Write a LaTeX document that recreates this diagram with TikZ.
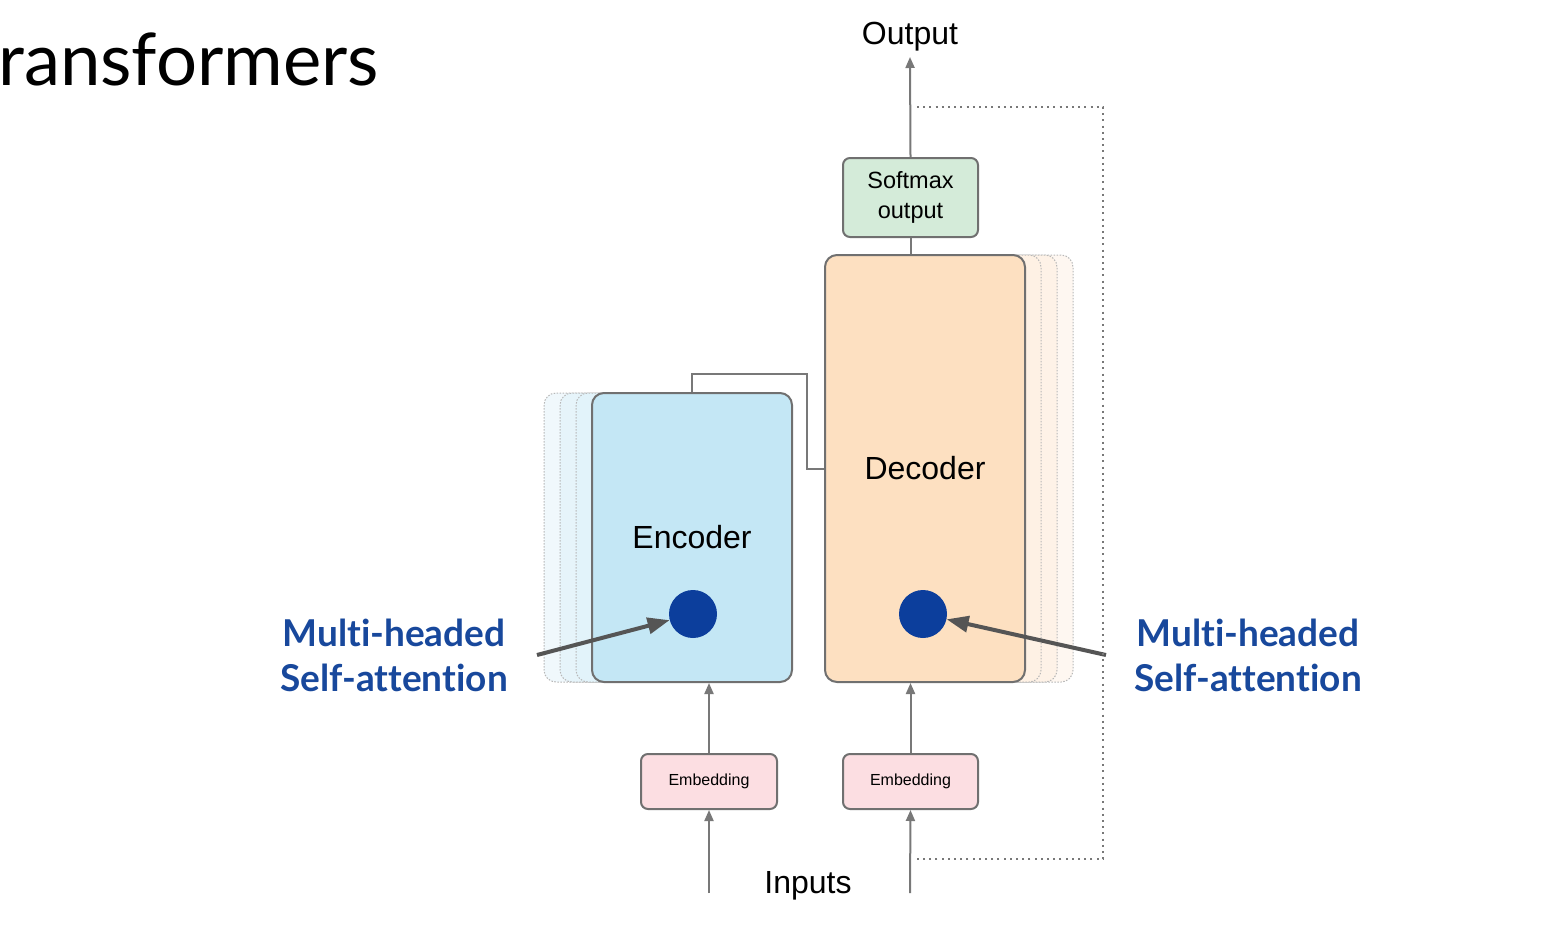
\documentclass[tikz,border=0pt]{standalone}
\usepackage{fontspec}
\setmainfont{Liberation Sans}
\newfontfamily\lato[Ligatures={NoCommon}]{Lato}
\usetikzlibrary{arrows.meta,calc}
\definecolor{encfill}{RGB}{196,231,245}
\definecolor{encshadow}{RGB}{226,243,250}
\definecolor{decfill}{RGB}{253,224,193}
\definecolor{decshadow}{RGB}{254,241,228}
\definecolor{softfill}{RGB}{212,235,217}
\definecolor{embfill}{RGB}{252,222,226}
\definecolor{boxline}{RGB}{112,112,112}
\definecolor{arrowgray}{RGB}{120,120,120}
\definecolor{dotblue}{RGB}{12,62,156}
\definecolor{lblblue}{RGB}{24,72,156}
\definecolor{thickgray}{RGB}{85,85,85}
\begin{document}
\begin{tikzpicture}[x=1pt,y=-1pt,
  box/.style={draw=boxline,line width=2pt,rounded corners=12pt,inner sep=0pt,align=center},
  shadowbox/.style={draw=boxline!50,line width=1pt,dash pattern=on 1.5pt off 1.5pt,rounded corners=12pt},
  thin arrow/.style={draw=arrowgray,line width=2pt,-{Triangle[length=11pt,width=9pt]}},
  plain link/.style={draw=arrowgray,line width=2pt},
  thick arrow/.style={draw=thickgray,line width=4pt,-{Triangle[length=22pt,width=16pt]}},
  loop line/.style={draw=arrowgray,line width=2pt,dash pattern=on 2pt off 4.2pt},
  attn/.style={circle,fill=dotblue,minimum size=48pt,inner sep=0pt},
  bluelabel/.style={text=lblblue,align=center,font=\lato\bfseries\fontsize{37}{45}\selectfont},
  plainlabel/.style={font=\fontsize{32}{36}\selectfont,inner sep=0pt}
]
\useasboundingbox (0,0) rectangle (1558,932);
\fill[white] (0,0) rectangle (1558,932);

% title
\node[anchor=base west,inner sep=0pt,font=\lato\fontsize{72.5}{86}\selectfont] (title) at (-2,85) {ransformers};

% encoder shadows
\foreach \d/\op in {48/0.5,32/0.7,16/0.9}{
  \filldraw[shadowbox,fill=encshadow,fill opacity=\op] (592-\d,393) rectangle (792-\d,682);
}
% decoder shadows
\foreach \d/\op in {48/0.5,32/0.7,16/0.9}{
  \filldraw[shadowbox,fill=decshadow,fill opacity=\op] (825+\d,255) rectangle (1025+\d,682);
}

% main boxes
\node[box,fill=encfill,minimum width=200pt,minimum height=289pt,font=\fontsize{32}{36}\selectfont] (enc) at (692,537.5) {Encoder};
\node[box,fill=decfill,minimum width=200pt,minimum height=427pt,font=\fontsize{32}{36}\selectfont] (dec) at (925,468.5) {Decoder};
\node[box,fill=softfill,rounded corners=7pt,minimum width=135pt,minimum height=79pt,font=\fontsize{23.5}{30}\selectfont] (soft) at (910.5,197.5) {Softmax\\output};
\node[box,fill=embfill,rounded corners=7pt,minimum width=136pt,minimum height=55pt,font=\fontsize{16}{19}\selectfont] (emb1) at (709,781.5) {Embedding};
\node[box,fill=embfill,rounded corners=7pt,minimum width=135pt,minimum height=55pt,font=\fontsize{16}{19}\selectfont] (emb2) at (910.5,781.5) {Embedding};

% attention dots
\node[attn] (d1) at (693,614) {};
\node[attn] (d2) at (923,614) {};

% labels
\node[plainlabel,anchor=south] (outlbl) at (910,51) {Output};
\node[plainlabel] (inlbl) at (808,886) {Inputs};
\node[bluelabel] (lab1) at (394,655) {Multi-headed\\Self-attention};
\node[bluelabel] (lab2) at (1248,655) {Multi-headed\\Self-attention};

% connectors
\coordinate (outtip) at (910,57);
\draw[thin arrow] (soft.north) -- (outtip);
\draw[plain link] (dec.north -| soft.south) -- (soft.south);
\draw[plain link] (enc.north) -- ++(0,-18) -| ($(dec.west)+(-17,0)$) -- (dec.west);
\draw[thin arrow] (emb1.north) -- (emb1.north |- enc.south);
\draw[thin arrow] (emb2.north) -- (emb2.north |- dec.south);
\coordinate (in1) at (709,893);
\coordinate (in2) at (910,893);
\draw[thin arrow] (in1) -- (emb1.south);
\draw[thin arrow] (in2) -- (emb2.south);

% thick arrows to attention
\coordinate (a1) at (537,655);
\coordinate (a2) at (1106,655);
\draw[thick arrow] (a1) -- (d1);
\draw[thick arrow] (a2) -- (d2);

% dotted feedback loop
\coordinate (l1) at (917,107);
\coordinate (l2) at (1103,107);
\coordinate (l3) at (1103,859);
\coordinate (l4) at (917,859);
\draw[loop line] (l1) -- (l2) -- (l3) -- (l4);
\end{tikzpicture}
\end{document}
